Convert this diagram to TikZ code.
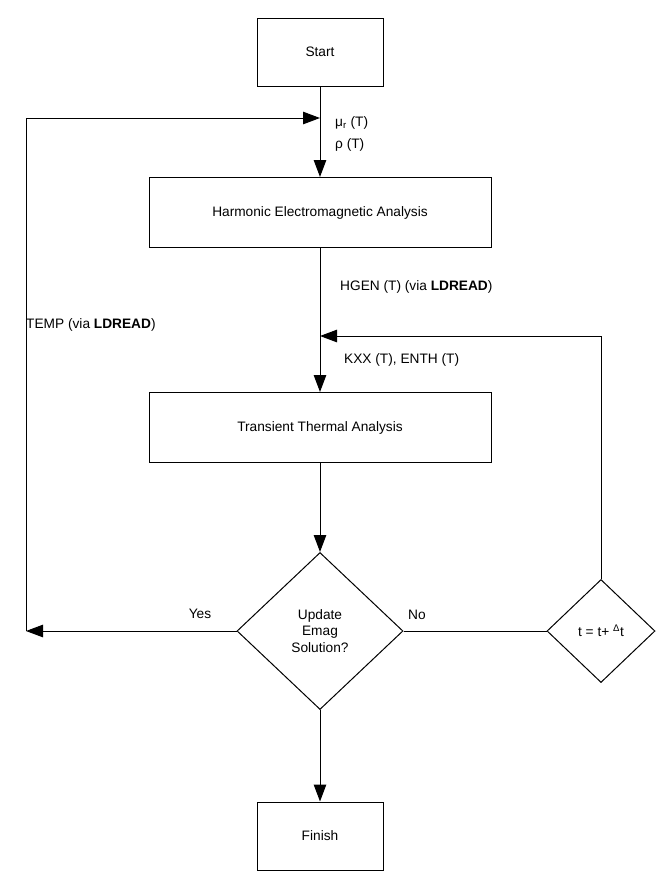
\documentclass[tikz,border=0pt]{standalone}
\usepackage{fontspec}
\setmainfont{Liberation Sans}
\usepackage{tikz}
\usetikzlibrary{shapes.geometric, arrows.meta, positioning, calc}

\begin{document}
\begin{tikzpicture}[
    x=1pt, y=-1pt,
    txt/.style={font=\fontsize{13.7}{16.5}\selectfont},
    box/.style={draw, line width=1pt, minimum width=126pt, minimum height=68pt,
                align=center, txt},
    widebox/.style={box, minimum width=342pt, minimum height=70pt},
    decision/.style={draw, diamond, line width=1pt, inner sep=0pt, align=center, txt,
                minimum width=166pt, minimum height=157pt},
    arrow/.style={-{Triangle[length=17pt,width=12.5pt]}, line width=1pt},
    lbl/.style={anchor=west, inner sep=1pt, txt},
]
    \useasboundingbox (0,0) rectangle (668,871);

    \node[box]     (start)  at (320,52)    {Start};
    \node[widebox] (harm)   at (320,212.5) {Harmonic Electromagnetic Analysis};
    \node[widebox] (trans)  at (320,427.5) {Transient Thermal Analysis};
    \node[decision] (upd)   at (320,631)   {Update\\Emag\\Solution?};
    \node[box]     (finish) at (320,836)   {Finish};
    \node[decision, minimum width=108pt, minimum height=103pt] (tstep) at (601,631)
        {t = t+ \textsuperscript{Δ}t};

    \coordinate (join)      at (320,118);
    \coordinate (yescorner) at (26,631);
    \coordinate (retjoin)   at (320,336);

    % labels on the connectors
    \node[lbl] (mur)  at (334,123) {μ\textsubscript{r} (T)};
    \node[lbl] (rho)  at (334,145) {ρ (T)};
    \node[lbl] (hgen) at (339,287) {HGEN (T) (via \textbf{LDREAD})};
    \node[lbl] (temp) at (25,325)  {TEMP (via \textbf{LDREAD})};
    \node[lbl] (kxx)  at (343,360) {KXX (T), ENTH (T)};
    \node[txt] (yes)  at (200,614) {Yes};
    \node[txt] (no)   at (417,615) {No};

    \foreach \a/\b in {start/harm, harm/trans, trans/upd, upd/finish}
        \draw[arrow] (\a) -- (\b);
    \draw[arrow] (upd) -- (yescorner);
    \draw[arrow] (yescorner) -- (yescorner |- join) -- (join);
    \draw[arrow] (tstep) -- (tstep |- retjoin) -- (retjoin);
    \draw[line width=1pt] (upd) -- (tstep);
\end{tikzpicture}
\end{document}
